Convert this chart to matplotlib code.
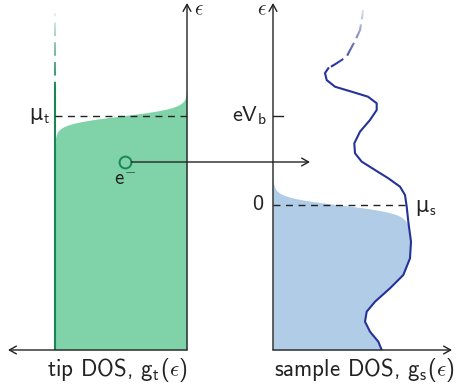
"""
Esquema de tunelamiento STM: DOS de la punta (izquierda) y de la muestra (derecha).
Guarda la figura en out.png
"""
import numpy as np
import matplotlib.pyplot as plt
from matplotlib.patches import ConnectionPatch

plt.rcParams['font.family'] = 'cmss10'
plt.rcParams['mathtext.fontset'] = 'custom'
plt.rcParams['mathtext.rm'] = 'cmss10'
plt.rcParams['mathtext.sf'] = 'cmss10'
plt.rcParams['mathtext.it'] = 'cmss10'
plt.rcParams['mathtext.fallback'] = 'cm'
plt.rcParams['axes.unicode_minus'] = False

# energias en unidades de eV_b (mu_s = 0, mu_t = eV_b = 1)
e_min, e_max = -1.63, 2.27
dos_max = 1.79
kT = 0.046
mu_tip = 1.0
mu_sample = 0.0
bias = 1.0

# DOS de la punta: constante
tip_dos = 1.32
tip_energy_solid = [-1.63, 1.33]
tip_energy_faded = [1.33, 2.16]

# DOS de la muestra
sample_energy = [-1.629, -1.536, -1.424, -1.311, -1.199, -1.087, -0.936, -0.787,
                 -0.599, -0.412, -0.188, -0.019, 0.112, 0.206, 0.300, 0.393,
                 0.487, 0.581, 0.693, 0.824, 0.955, 1.067, 1.143, 1.217,
                 1.273, 1.329, 1.404, 1.483, 1.536]
sample_dos = [1.087, 1.053, 0.970, 0.920, 0.937, 1.020, 1.170, 1.303,
              1.370, 1.380, 1.353, 1.337, 1.320, 1.270, 1.153, 1.020,
              0.887, 0.820, 0.813, 0.870, 0.970, 1.037, 1.037, 0.950,
              0.787, 0.620, 0.537, 0.520, 0.553]
sample_energy_faded = [1.536, 1.581, 1.666, 1.719, 1.843, 1.966, 2.100, 2.190]
sample_dos_faded = [0.553, 0.620, 0.737, 0.760, 0.820, 0.870, 0.890, 0.900]

# electron que tunelea
electron_energy = 0.483
electron_dos = 0.62
arrow_end_dos = 0.37

green_fill = '#80d3a8'
green_line = '#1b855a'
blue_fill = '#b1cce6'
blue_line = '#24329a'
ink = '#222222'


def fermi(e, mu):
    return 1.0 / (1.0 + np.exp((e - mu) / kT))


def fade(ax, x0, x1, y0, y1):
    # degradado blanco encima de las lineas discontinuas
    grad = np.ones((200, 1, 4))
    grad[:, 0, 3] = np.linspace(0.0, 0.97, 200)
    ax.imshow(grad, extent=(x0, x1, y0, y1), origin='lower', aspect='auto',
              zorder=4, interpolation='bilinear')


def arrow(ax, start, end):
    ax.annotate('', xy=end, xytext=start, xycoords='axes fraction',
                arrowprops=dict(arrowstyle='->,head_length=0.5,head_width=0.28',
                                lw=1.0, color=ink, shrinkA=0, shrinkB=0))


fig = plt.figure(figsize=(4.57, 3.89), dpi=100)
W, H = 457, 389
ax_t = fig.add_axes([8 / W, 39 / H, 179 / W, 347 / H])
ax_s = fig.add_axes([273 / W, 39 / H, 179 / W, 347 / H])

e_grid = np.linspace(e_min, e_max, 1200)

# --- punta ---
ax_t.fill_betweenx(e_grid, 0, tip_dos * fermi(e_grid, mu_tip), color=green_fill, lw=0)
ax_t.plot([tip_dos, tip_dos], tip_energy_solid, color=green_line, lw=1.5,
          solid_capstyle='butt')
ax_t.plot([tip_dos, tip_dos], tip_energy_faded, color=green_line, lw=1.5,
          ls=(4, (6.5, 3)), dash_capstyle='butt')
fade(ax_t, tip_dos + 0.08, tip_dos - 0.08, 1.30, 2.2)
ax_t.plot([tip_dos, 0], [mu_tip, mu_tip], color=ink, lw=1.0, ls=(0, (5, 4)))
ax_t.plot([electron_dos], [electron_energy], 'o', ms=8.5, mfc='none',
          mec=green_line, mew=1.4, zorder=5)
ax_t.text(electron_dos, electron_energy - 0.2, r'e$^{-}$', fontsize=15,
          color=ink, ha='center', va='center')
ax_t.text(1.37, mu_tip, r'μ$_{t}$', fontsize=15, color=ink, family='DejaVu Sans',
          ha='right', va='center')
ax_t.text(-0.07, 2.19, r'$\epsilon$', fontsize=15, color=ink, ha='left', va='center')
ax_t.text(0.70, -1.86, r'tip DOS, g$_{t}(\epsilon)$',
          fontsize=16.5, color=ink, ha='center', va='center')
arrow(ax_t, (1, 0), (1, 1))
arrow(ax_t, (1, 0), (0, 0))

# --- muestra ---
occupied = np.interp(e_grid, sample_energy, sample_dos) * fermi(e_grid, mu_sample)
ax_s.fill_betweenx(e_grid, 0, occupied, color=blue_fill, lw=0)
ax_s.plot(sample_dos, sample_energy, color=blue_line, lw=1.5,
          solid_joinstyle='round')
ax_s.plot(sample_dos_faded, sample_energy_faded, color=blue_line, lw=1.5,
          ls=(8, (7, 2.5)), dash_capstyle='butt')
fade(ax_s, 0.5, 1.0, 1.55, 2.27)
ax_s.plot([0, 1.32], [mu_sample, mu_sample], color=ink, lw=1.0, ls=(0, (5, 4)))
ax_s.plot([0, 0.1], [bias, bias], color=ink, lw=1.0)
ax_s.text(-0.06, bias, r'eV$_{b}$', fontsize=16, color=ink, ha='right', va='center')
ax_s.text(-0.1, mu_sample, '0', fontsize=16, color=ink, ha='right', va='center')
ax_s.text(1.42, mu_sample - 0.03, r'μ$_{s}$', fontsize=15, color=ink,
          family='DejaVu Sans', ha='left', va='center')
ax_s.text(-0.06, 2.19, r'$\epsilon$', fontsize=15, color=ink, ha='right', va='center')
ax_s.text(0.91, -1.86, r'sample DOS, g$_{s}(\epsilon)$',
          fontsize=16.5, color=ink, ha='center', va='center')
arrow(ax_s, (0, 0), (0, 1))
arrow(ax_s, (0, 0), (1, 0))

for ax in (ax_t, ax_s):
    ax.set_ylim(e_min, e_max)
    ax.axis('off')
ax_t.set_xlim(dos_max, 0)
ax_s.set_xlim(0, dos_max)

# flecha de tunelamiento
con = ConnectionPatch(xyA=(electron_dos, electron_energy), coordsA=ax_t.transData,
                      xyB=(arrow_end_dos, electron_energy), coordsB=ax_s.transData,
                      arrowstyle='->,head_length=0.5,head_width=0.28',
                      color=ink, lw=1.0, shrinkA=4.6, shrinkB=0)
fig.add_artist(con)

fig.savefig('out.png', dpi=100)
